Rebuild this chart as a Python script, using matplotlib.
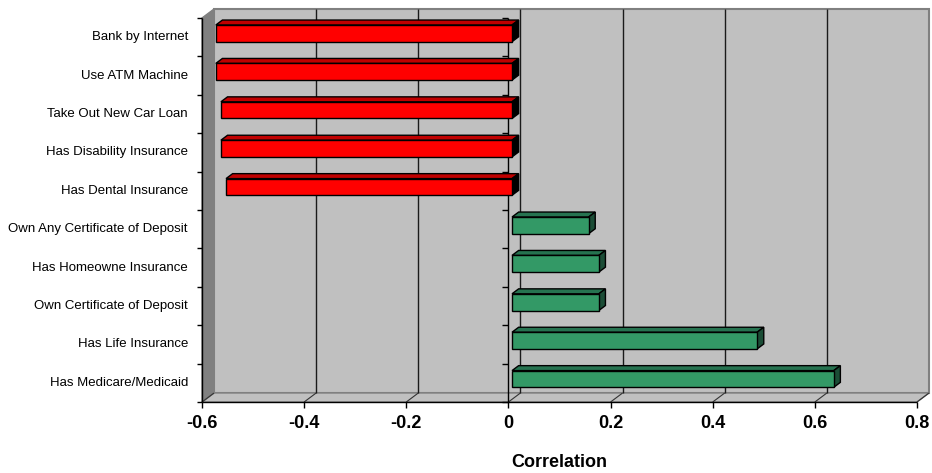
import matplotlib.pyplot as plt
import matplotlib.transforms as mtransforms
from matplotlib.patches import Polygon

plt.rcParams['font.family'] = ['Liberation Sans', 'DejaVu Sans']

# correlation of each product/behaviour with the target
categories = [
    'Bank by Internet',
    'Use ATM Machine',
    'Take Out New Car Loan',
    'Has Disability Insurance',
    'Has Dental Insurance',
    'Own Any Certificate of Deposit',
    'Has Homeowne Insurance',
    'Own Certificate of Deposit',
    'Has Life Insurance',
    'Has Medicare/Medicaid',
]
correlations = [-0.58, -0.58, -0.57, -0.57, -0.56, 0.15, 0.17, 0.17, 0.48, 0.63]
xticks = [-0.6, -0.4, -0.2, 0, 0.2, 0.4, 0.6, 0.8]

W, H = 932, 473
fig = plt.figure(figsize=(W / 100, H / 100), dpi=100)
ax = fig.add_axes([202 / W, 1 - 402 / H, 715 / W, 384 / H])
ax.set_xlim(xticks[0], xticks[-1])
n = len(categories)
ax.set_ylim(n - 0.5, -0.5)
ax.axis('off')

# depth of the 3d box in pixels
DXP, DYP = 12, 9
ID = mtransforms.IdentityTransform()
x0, x1 = xticks[0], xticks[-1]
ytop, ybot = -0.5, n - 0.5


def pt(v, y, d):
    px, py = ax.transData.transform((v, y))
    return px + DXP * d, py + DYP * d


def face(pts, fc, ec='black', lw=1.0, z=1):
    ax.add_patch(Polygon(pts, closed=True, transform=ID, clip_on=False,
                         facecolor=fc, edgecolor=ec, linewidth=lw, zorder=z,
                         joinstyle='miter'))


def seg(a, b, color='black', lw=1.0, z=2):
    ax.plot([a[0], b[0]], [a[1], b[1]], transform=ID, color=color, lw=lw,
            clip_on=False, zorder=z, solid_capstyle='butt')


# walls and floor
face([pt(x0, ytop, 1), pt(x1, ytop, 1), pt(x1, ybot, 1), pt(x0, ybot, 1)],
     '#C0C0C0', ec='#808080', lw=1.5, z=1)
face([pt(x0, ytop, 0), pt(x0, ytop, 1), pt(x0, ybot, 1), pt(x0, ybot, 0)],
     '#808080', ec='#808080', lw=1.0, z=1.2)
face([pt(x0, ybot, 0), pt(x1, ybot, 0), pt(x1, ybot, 1), pt(x0, ybot, 1)],
     '#C0C0C0', ec='#808080', lw=1.0, z=1.1)

# gridlines on back wall and floor
for v in xticks[1:-1]:
    seg(pt(v, ytop, 1), pt(v, ybot, 1), color='#1a1a1a', lw=1.0, z=1.5)
for v in xticks:
    seg(pt(v, ybot, 0), pt(v, ybot, 1), color='#333333', lw=0.8, z=1.5)

# value axis along the front of the floor
seg(pt(x0, ybot, 0), pt(x1, ybot, 0), lw=1.0, z=3)
for v in xticks:
    p = pt(v, ybot, 0)
    seg(p, (p[0], p[1] - 6), lw=1.0, z=3)
    ax.text(p[0], p[1] - 21, f'{v:g}', transform=ID, ha='center', va='center',
            fontsize=13, fontweight='bold')

# category axis at zero and on the front edge of the left wall
seg(pt(0, ytop, 0), pt(0, ybot, 0), lw=1.0, z=2)
seg(pt(x0, ytop, 0), pt(x0, ybot, 0), lw=1.0, z=2)
for k in range(n + 1):
    yb = k - 0.5
    p = pt(0, yb, 0)
    seg((p[0] - 6, p[1]), p, lw=1.0, z=2)
    q = pt(x0, yb, 0)
    seg((q[0] - 5, q[1]), q, lw=1.0, z=2)

for i, name in enumerate(categories):
    p = pt(x0, i, 0)
    ax.text(p[0] - 14, p[1], name, transform=ID, ha='right', va='center',
            fontsize=9.5)

# bars with front, top and end faces
d0, d1 = 0.3, 0.85
bh = 0.435
for i, v in enumerate(correlations):
    if v < 0:
        fc, tc, sc = '#FF0000', '#C00000', '#000000'
    else:
        fc, tc, sc = '#339966', '#267350', '#1B4D36'
    lo, hi = min(0, v), max(0, v)
    yt, yb = i - bh / 2 - 0.03, i + bh / 2 - 0.03
    face([pt(lo, yt, d0), pt(hi, yt, d0), pt(hi, yt, d1), pt(lo, yt, d1)], tc, z=4)
    face([pt(hi, yt, d0), pt(hi, yb, d0), pt(hi, yb, d1), pt(hi, yt, d1)], sc, z=4)
    face([pt(lo, yb, d0), pt(hi, yb, d0), pt(hi, yt, d0), pt(lo, yt, d0)], fc, z=5)

fig.text(559.5 / W, 1 - 462 / H, 'Correlation', ha='center', va='center',
         fontsize=13, fontweight='bold')

fig.savefig('out.png', dpi=100)
